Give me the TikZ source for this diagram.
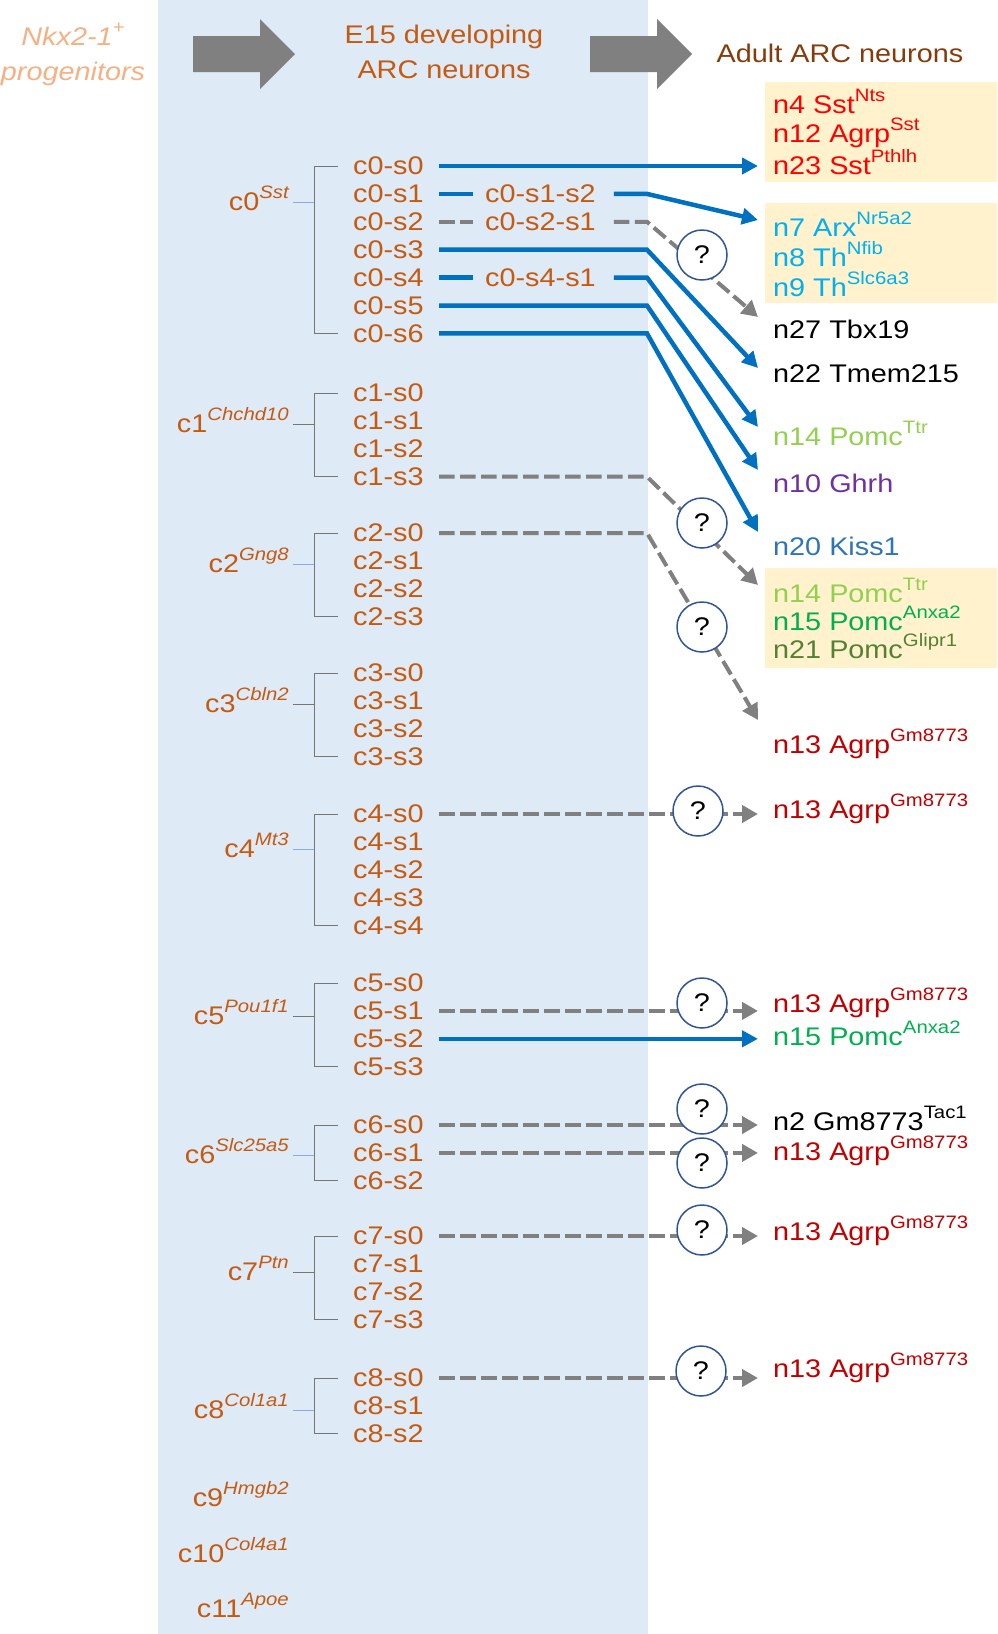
\documentclass[tikz,border=0pt]{standalone}
\usepackage{fontspec}
\setmainfont{Liberation Sans}[FakeStretch=1.13]
\usetikzlibrary{arrows.meta}

\definecolor{panelblue}{RGB}{222,234,246}
\definecolor{boxyellow}{RGB}{255,242,204}
\definecolor{clusterorange}{RGB}{197,90,17}
\definecolor{progorange}{RGB}{244,177,131}
\definecolor{adultbrown}{RGB}{132,60,12}
\definecolor{linkblue}{RGB}{0,112,192}
\definecolor{linkgray}{RGB}{128,128,128}
\definecolor{qblue}{RGB}{47,85,151}
\definecolor{tickblue}{RGB}{143,170,220}
\definecolor{tickgray}{RGB}{118,118,118}
\definecolor{sstred}{RGB}{255,0,0}
\definecolor{agrpred}{RGB}{192,0,0}
\definecolor{arxcyan}{RGB}{0,176,240}
\definecolor{pomclight}{RGB}{146,208,80}
\definecolor{pomcgreen}{RGB}{0,176,80}
\definecolor{pomcdark}{RGB}{84,130,53}
\definecolor{ghrhpurple}{RGB}{112,48,160}
\definecolor{kissblue}{RGB}{46,117,182}

\newcommand{\gsup}[1]{\raisebox{12pt}{\fontsize{18}{18}\selectfont #1}}
\newcommand{\gsupit}[1]{\raisebox{12pt}{\fontsize{18}{18}\selectfont\itshape #1}}

\begin{document}
\begin{tikzpicture}[x=1pt, y=-1pt,
	txt/.style={inner sep=0pt, font=\fontsize{25.5}{35}\selectfont},
	subnode/.style={txt, anchor=west, text=clusterorange},
	cluster/.style={txt, anchor=base east, text=clusterorange},
	adult/.style={txt, anchor=base west},
	subtree/.style={draw=tickgray, line width=1pt},
	bluebar/.style={draw=linkblue, line width=4.5pt},
	graybar/.style={draw=linkgray, line width=4pt, dash pattern=on 15.5pt off 5.5pt},
	bluelink/.style={bluebar, -{Triangle[length=16pt,width=16pt]}},
	graylink/.style={graybar, -{Triangle[length=16pt,width=17pt]}},
	qmark/.style={circle, draw=qblue, line width=1.5pt, fill=white, minimum size=50pt, inner sep=0pt, font=\fontsize{25.5}{25.5}\selectfont}]
			\useasboundingbox (0,0) rectangle (997,1634);

			% Draw background panel and boxes
			\fill[panelblue] (158,0) rectangle (648,1634);
			\fill[boxyellow] (765,82) rectangle (997,182);
			\fill[boxyellow] (765,203) rectangle (997,303);
			\fill[boxyellow] (765,568) rectangle (997,668);

			% Draw big arrows
			\fill[linkgray] (193,36) -- (260,36) -- (260,19) -- (295,54) -- (260,89) -- (260,72) -- (193,72) -- cycle;
			\fill[linkgray] (590,36) -- (657,36) -- (657,19) -- (692,54) -- (657,89) -- (657,72) -- (590,72) -- cycle;

			% Headings
			\node[txt, anchor=base, align=center, text=progorange, font=\fontsize{25.5}{35}\selectfont\itshape] (prog) at (73,80) {Nkx2-1\gsup{+}\\progenitors};
			\node[txt, anchor=base, align=center, text=clusterorange] (e15) at (444,78) {E15 developing\\ARC neurons};
			\node[txt, anchor=base, text=adultbrown] (adulthead) at (840,62) {Adult ARC neurons};

			% Subclusters and their brackets
			\foreach \g/\ytop/\nlast in {0/166/6, 1/393/3, 2/533/3, 3/673/3, 4/814/4, 5/983/3, 6/1125/2, 7/1236/3, 8/1378/2} {
				\foreach \s in {0,...,\nlast}
					\node[subnode] (c\g-s\s) at (353,\ytop+27.9*\s) {c\g-s\s};
				\draw[subtree] ([xshift=-15pt]c\g-s0.west) -- ++(-24,0) |- ([xshift=-15pt]c\g-s\nlast.west);
			}

			% Clusters
			\foreach \g/\gene/\ybase/\tc in {0/Sst/210/tickblue, 1/Chchd10/432/tickgray, 2/Gng8/572/tickblue, 3/Cbln2/712/tickgray, 4/Mt3/857/tickblue, 5/Pou1f1/1024/tickgray, 6/Slc25a5/1163/tickblue, 7/Ptn/1280/tickgray, 8/Col1a1/1418/tickblue} {
				\node[cluster] (c\g) at (289,\ybase) {c\g\gsupit{\gene}};
				\draw[draw=\tc, line width=1pt] ([xshift=4pt,yshift=8pt]c\g.base east) -- ++(21,0);
			}
			\node[cluster] (c9) at (289,1506) {c9\gsupit{Hmgb2}};
			\node[cluster] (c10) at (289,1562) {c10\gsupit{Col4a1}};
			\node[cluster] (c11) at (289,1617) {c11\gsupit{Apoe}};

			% Adult neuron types
			\node[adult, text=sstred] (n4) at (773,113) {n4 Sst\gsup{Nts}};
			\node[adult, text=sstred] (n12) at (773,142) {n12 Agrp\gsup{Sst}};
			\node[adult, text=sstred] (n23) at (773,174) {n23 Sst\gsup{Pthlh}};
			\node[adult, text=arxcyan] (n7) at (773,236) {n7 Arx\gsup{Nr5a2}};
			\node[adult, text=arxcyan] (n8) at (773,266) {n8 Th\gsup{Nfib}};
			\node[adult, text=arxcyan] (n9) at (773,296) {n9 Th\gsup{Slc6a3}};
			\node[adult] (n27) at (773,338) {n27 Tbx19};
			\node[adult] (n22) at (773,382) {n22 Tmem215};
			\node[adult, text=pomclight] (n14a) at (773,445) {n14 Pomc\gsup{Ttr}};
			\node[adult, text=ghrhpurple] (n10) at (773,492) {n10 Ghrh};
			\node[adult, text=kissblue] (n20) at (773,555) {n20 Kiss1};
			\node[adult, text=pomclight] (n14b) at (773,602) {n14 Pomc\gsup{Ttr}};
			\node[adult, text=pomcgreen] (n15a) at (773,630) {n15 Pomc\gsup{Anxa2}};
			\node[adult, text=pomcdark] (n21) at (773,658) {n21 Pomc\gsup{Glipr1}};
			\node[adult, text=agrpred] (n13a) at (773,753) {n13 Agrp\gsup{Gm8773}};
			\node[adult, text=agrpred] (n13b) at (773,818) {n13 Agrp\gsup{Gm8773}};
			\node[adult, text=agrpred] (n13c) at (773,1012) {n13 Agrp\gsup{Gm8773}};
			\node[adult, text=pomcgreen] (n15b) at (773,1045) {n15 Pomc\gsup{Anxa2}};
			\node[adult] (n2) at (773,1130) {n2 Gm8773\gsup{Tac1}};
			\node[adult, text=agrpred] (n13d) at (773,1160) {n13 Agrp\gsup{Gm8773}};
			\node[adult, text=agrpred] (n13e) at (773,1240) {n13 Agrp\gsup{Gm8773}};
			\node[adult, text=agrpred] (n13f) at (773,1377) {n13 Agrp\gsup{Gm8773}};

			% Line columns and arrow ends
			\coordinate (startx) at (439,0);
			\coordinate (bend) at (647,0);
			\coordinate (tipx) at ([xshift=-15pt]n4.base west);
			\coordinate (to-n7) at (758,220);
			\coordinate (to-n27) at (758,317);
			\coordinate (to-n22) at (758,368);
			\coordinate (to-n14a) at (758,427);
			\coordinate (to-n10) at (758,470);
			\coordinate (to-n20) at (758,532);
			\coordinate (to-n14b) at (758,585);
			\coordinate (to-n13a) at (758,720);

			% Intermediate states of c0
			\node[subnode] (c0-s1-s2) at ([xshift=132pt]c0-s1.west) {c0-s1-s2};
			\node[subnode] (c0-s2-s1) at ([xshift=132pt]c0-s2.west) {c0-s2-s1};
			\node[subnode] (c0-s4-s1) at ([xshift=132pt]c0-s4.west) {c0-s4-s1};

			% Draw links from c0
			\draw[bluelink] (startx |- c0-s0.east) -- (tipx |- c0-s0.east);
			\draw[bluebar] (startx |- c0-s1.east) -- ([xshift=-12pt]c0-s1-s2.west);
			\draw[bluelink] ([xshift=18pt]c0-s1-s2.east) -- (bend |- c0-s1.east) -- (to-n7);
			\draw[graybar] (startx |- c0-s2.east) -- ([xshift=-12pt]c0-s2-s1.west);
			\draw[graylink] ([xshift=18pt]c0-s2-s1.east) -- (bend |- c0-s2.east) -- (to-n27);
			\draw[bluelink] (startx |- c0-s3.east) -- (bend |- c0-s3.east) -- (to-n22);
			\draw[bluebar] (startx |- c0-s4.east) -- ([xshift=-12pt]c0-s4-s1.west);
			\draw[bluelink] ([xshift=18pt]c0-s4-s1.east) -- (bend |- c0-s4.east) -- (to-n14a);
			\draw[bluelink] (startx |- c0-s5.east) -- (bend |- c0-s5.east) -- (to-n10);
			\draw[bluelink] (startx |- c0-s6.east) -- (bend |- c0-s6.east) -- (to-n20);

			% Draw links from the other clusters
			\draw[graylink] (startx |- c1-s3.east) -- (bend |- c1-s3.east) -- (to-n14b);
			\draw[graylink] (startx |- c2-s0.east) -- (bend |- c2-s0.east) -- (to-n13a);
			\draw[graylink] (startx |- c4-s0.east) -- (tipx |- c4-s0.east);
			\draw[graylink] (startx |- c5-s1.east) -- (tipx |- c5-s1.east);
			\draw[bluelink] (startx |- c5-s2.east) -- (tipx |- c5-s2.east);
			\draw[graylink] (startx |- c6-s0.east) -- (tipx |- c6-s0.east);
			\draw[graylink] (startx |- c6-s1.east) -- (tipx |- c6-s1.east);
			\draw[graylink] (startx |- c7-s0.east) -- (tipx |- c7-s0.east);
			\draw[graylink] (startx |- c8-s0.east) -- (tipx |- c8-s0.east);

			% Uncertain links
			\node[qmark] (q1) at (702,255) {?};
			\node[qmark] (q2) at (702,523) {?};
			\node[qmark] (q3) at (702,627) {?};
			\node[qmark] (q4) at (698,811) {?};
			\node[qmark] (q5) at (702,1003) {?};
			\node[qmark] (q6) at (702,1109) {?};
			\node[qmark] (q7) at (702,1163) {?};
			\node[qmark] (q8) at (702,1230) {?};
			\node[qmark] (q9) at (701,1371) {?};

		\end{tikzpicture}
\end{document}
